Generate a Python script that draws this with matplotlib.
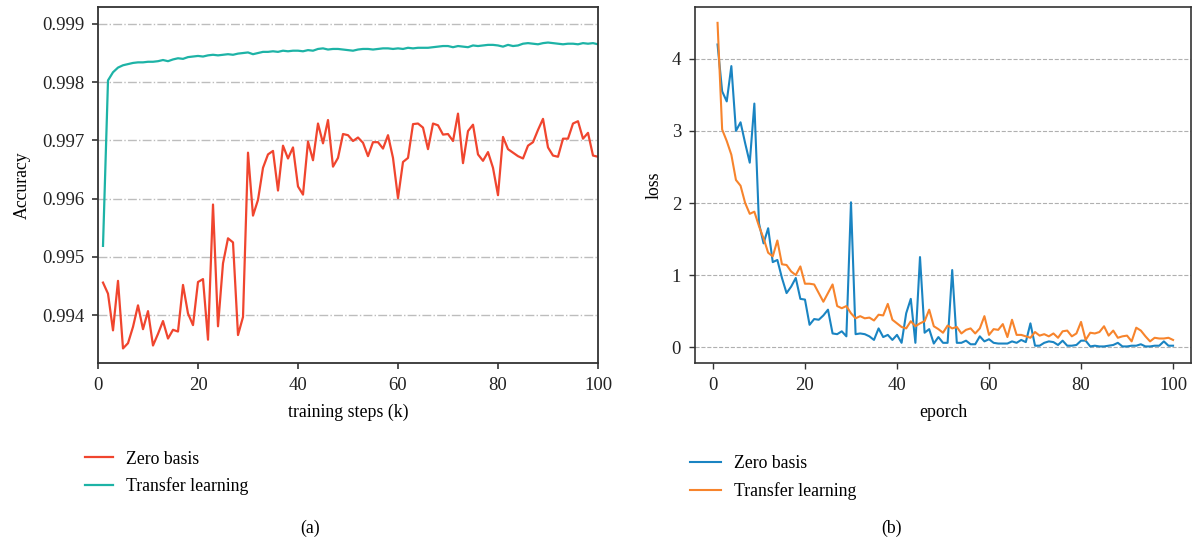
import matplotlib
matplotlib.use('Agg')
import matplotlib.pyplot as plt
import numpy as np
from matplotlib.ticker import FormatStrFormatter

plt.rcParams['font.family'] = ['Liberation Serif', 'DejaVu Serif']
plt.rcParams['font.size'] = 12

# (a) accuracy vs training steps (k)
steps = np.arange(1, 101)
acc_zero = [
    0.99456, 0.99437, 0.99374, 0.99459, 0.99343, 0.99352, 0.99380, 0.99417, 0.99376, 0.99407,
    0.99348, 0.99368, 0.99390, 0.99360, 0.99375, 0.99372, 0.99452, 0.99403, 0.99383, 0.99457,
    0.99462, 0.99358, 0.99590, 0.99381, 0.99489, 0.99532, 0.99525, 0.99366, 0.99397, 0.99679,
    0.99571, 0.99598, 0.99653, 0.99676, 0.99682, 0.99614, 0.99691, 0.99669, 0.99688, 0.99621,
    0.99607, 0.99698, 0.99666, 0.99729, 0.99695, 0.99735, 0.99655, 0.99670, 0.99711, 0.99709,
    0.99699, 0.99705, 0.99696, 0.99673, 0.99697, 0.99697, 0.99686, 0.99709, 0.99670, 0.99601,
    0.99663, 0.99670, 0.99728, 0.99729, 0.99722, 0.99685, 0.99729, 0.99726, 0.99710, 0.99711,
    0.99699, 0.99746, 0.99661, 0.99716, 0.99727, 0.99676, 0.99665, 0.99680, 0.99653, 0.99606,
    0.99706, 0.99685, 0.99679, 0.99673, 0.99669, 0.99691, 0.99697, 0.99718, 0.99737, 0.99688,
    0.99674, 0.99672, 0.99703, 0.99703, 0.99729, 0.99733, 0.99703, 0.99713, 0.99674, 0.99672,
]
acc_transfer = [
    0.99519, 0.99803, 0.99817, 0.99825, 0.99829, 0.99831, 0.99833, 0.99834, 0.99834, 0.99835,
    0.99835, 0.99836, 0.99838, 0.99836, 0.99839, 0.99841, 0.99840, 0.99843, 0.99844, 0.99845,
    0.99844, 0.99846, 0.99847, 0.99846, 0.99847, 0.99848, 0.99847, 0.99849, 0.99850, 0.99851,
    0.99848, 0.99850, 0.99852, 0.99852, 0.99853, 0.99852, 0.99854, 0.99853, 0.99854, 0.99854,
    0.99853, 0.99855, 0.99854, 0.99857, 0.99858, 0.99856, 0.99857, 0.99857, 0.99856, 0.99855,
    0.99854, 0.99856, 0.99857, 0.99857, 0.99856, 0.99857, 0.99858, 0.99858, 0.99857, 0.99858,
    0.99857, 0.99859, 0.99858, 0.99859, 0.99859, 0.99859, 0.99860, 0.99861, 0.99862, 0.99862,
    0.99860, 0.99862, 0.99861, 0.99860, 0.99863, 0.99862, 0.99863, 0.99864, 0.99864, 0.99863,
    0.99861, 0.99864, 0.99862, 0.99863, 0.99866, 0.99867, 0.99866, 0.99865, 0.99867, 0.99868,
    0.99867, 0.99866, 0.99865, 0.99866, 0.99866, 0.99865, 0.99867, 0.99866, 0.99867, 0.99865,
]

# (b) loss vs epoch
epochs = np.arange(1, 101)
loss_zero = [
    4.20, 3.55, 3.41, 3.90, 3.00, 3.12, 2.83, 2.56, 3.38, 1.72,
    1.44, 1.65, 1.18, 1.21, 0.96, 0.75, 0.84, 0.96, 0.67, 0.66,
    0.31, 0.39, 0.38, 0.44, 0.52, 0.19, 0.18, 0.22, 0.15, 2.01,
    0.18, 0.19, 0.18, 0.15, 0.10, 0.26, 0.14, 0.17, 0.10, 0.17,
    0.06, 0.47, 0.67, 0.06, 1.25, 0.20, 0.25, 0.05, 0.14, 0.06,
    0.06, 1.07, 0.06, 0.06, 0.09, 0.04, 0.04, 0.15, 0.08, 0.11,
    0.06, 0.05, 0.05, 0.05, 0.08, 0.06, 0.10, 0.07, 0.33, 0.02,
    0.02, 0.06, 0.08, 0.07, 0.03, 0.09, 0.02, 0.02, 0.03, 0.09,
    0.09, 0.01, 0.02, 0.01, 0.01, 0.02, 0.03, 0.06, 0.01, 0.01,
    0.02, 0.02, 0.04, 0.01, 0.01, 0.02, 0.02, 0.08, 0.02, 0.02,
]
loss_transfer = [
    4.50, 3.02, 2.86, 2.67, 2.32, 2.24, 2.00, 1.85, 1.88, 1.68,
    1.51, 1.31, 1.26, 1.48, 1.15, 1.14, 1.05, 1.00, 1.12, 0.88,
    0.88, 0.87, 0.75, 0.63, 0.75, 0.87, 0.57, 0.54, 0.57, 0.47,
    0.40, 0.43, 0.40, 0.41, 0.37, 0.45, 0.44, 0.60, 0.38, 0.33,
    0.28, 0.26, 0.36, 0.29, 0.33, 0.36, 0.52, 0.29, 0.25, 0.20,
    0.30, 0.26, 0.28, 0.19, 0.24, 0.26, 0.19, 0.26, 0.43, 0.17,
    0.25, 0.24, 0.32, 0.14, 0.38, 0.17, 0.17, 0.15, 0.13, 0.21,
    0.16, 0.18, 0.15, 0.19, 0.13, 0.22, 0.23, 0.15, 0.19, 0.35,
    0.10, 0.20, 0.19, 0.21, 0.29, 0.16, 0.23, 0.13, 0.15, 0.16,
    0.08, 0.27, 0.23, 0.15, 0.08, 0.13, 0.12, 0.12, 0.13, 0.10,
]

fig = plt.figure(figsize=(11.92, 5.41), dpi=100)
W, H = 1192, 541

def box(l, t, r, b):
    return [l / W, 1 - b / H, (r - l) / W, (b - t) / H]

spine_c = '#333333'

# ---- left panel
ax1 = fig.add_axes(box(98, 7, 598, 363))
ax1.plot(steps, acc_zero, c='#f0452e', lw=1.6, label='Zero basis')
ax1.plot(steps, acc_transfer, c='#1db3a6', lw=1.6, label='Transfer learning')
ax1.set_xlim(0, 100)
ax1.set_ylim(0.99318, 0.99929)
ax1.set_yticks([0.994, 0.995, 0.996, 0.997, 0.998, 0.999])
ax1.yaxis.set_major_formatter(FormatStrFormatter('%.3f'))
ax1.set_xticks([0, 20, 40, 60, 80, 100])
ax1.grid(axis='y', ls='-.', c='#bdbdbd', lw=1)
ax1.set_axisbelow(True)
ax1.set_xlabel('training steps (k)', fontsize=12.8, labelpad=7)
ax1.set_ylabel('Accuracy', fontsize=12.8, labelpad=8)
ax1.tick_params(direction='out', length=4, width=1.2, colors=spine_c,
                labelcolor='#222222', labelsize=13.5, pad=6)
for s in ax1.spines.values():
    s.set_color(spine_c)
    s.set_linewidth(1.3)
ax1.legend(loc='center left', bbox_to_anchor=(76 / W, 1 - 473 / H),
           bbox_transform=fig.transFigure, frameon=False, borderpad=0,
           handlelength=1.6, handletextpad=0.72, labelspacing=0.55, fontsize=12.8)
fig.text(310 / W, 1 - 528 / H, '(a)', ha='center', va='center', fontsize=12.8)

# ---- right panel
ax2 = fig.add_axes(box(695, 7, 1191, 363))
ax2.plot(epochs, loss_zero, c='#1a84c2', lw=1.5, label='Zero basis')
ax2.plot(epochs, loss_transfer, c='#f7842c', lw=1.5, label='Transfer learning')
ax2.set_xlim(-3.9, 103.9)
ax2.set_ylim(-0.22, 4.72)
ax2.set_xticks([0, 20, 40, 60, 80, 100])
ax2.set_yticks([0, 1, 2, 3, 4])
ax2.grid(axis='y', ls='--', c='#b0b0b0', lw=0.8)
ax2.set_axisbelow(True)
ax2.set_xlabel('eporch', fontsize=12.8, labelpad=7)
ax2.set_ylabel('loss', fontsize=12.8, labelpad=6.5)
ax2.tick_params(direction='out', length=4, width=1.0, colors=spine_c,
                labelcolor='#222222', labelsize=13.5, pad=6)
for s in ax2.spines.values():
    s.set_color(spine_c)
    s.set_linewidth(1.2)
ax2.legend(loc='center left', bbox_to_anchor=(681 / W, 1 - 477.5 / H),
           bbox_transform=fig.transFigure, frameon=False, borderpad=0,
           handlelength=1.75, handletextpad=0.72, labelspacing=0.6, fontsize=12.8)
fig.text(892 / W, 1 - 528 / H, '(b)', ha='center', va='center', fontsize=12.8)

fig.savefig('out.png', dpi=100)
